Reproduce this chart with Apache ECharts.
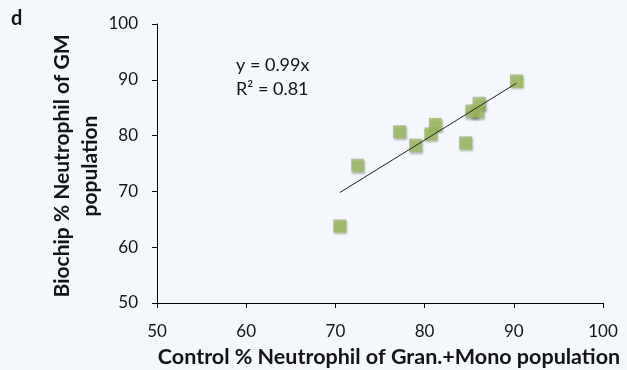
<!DOCTYPE html>
<html>
<head>
<meta charset="utf-8">
<script src="https://cdn.jsdelivr.net/npm/echarts@6/dist/echarts.min.js"></script>
<style>
  html, body { margin: 0; padding: 0; background: #f4f8fc; }
  #chart { width: 627px; height: 370px; }
</style>
</head>
<body>
<div id="chart"></div>
<script>
// Control vs. Biochip neutrophil percentages
const controlPct = [90.3, 86.1, 85.3, 85.9, 81.2, 80.7, 77.2, 79.0, 84.6, 72.5, 70.5];
const biochipPct = [89.8, 85.8, 84.4, 84.4, 82.0, 80.3, 80.7, 78.3, 78.7, 74.7, 63.8];
const slope = 0.99;
const rSquared = 0.81;
const xTicks = [50, 60, 70, 80, 90, 100];
const yTicks = [50, 60, 70, 80, 90, 100];

const points = controlPct.map((x, i) => [x, biochipPct[i]]);
const xMin = Math.min(...controlPct);
const xMax = Math.max(...controlPct);
const trend = [[xMin, slope * xMin], [xMax, slope * xMax]];

const FONT = 'Lato';
const TEXT = '#141414';

const chart = echarts.init(document.getElementById('chart'));
chart.setOption({
  backgroundColor: '#f4f8fc',
  animation: false,
  textStyle: { fontFamily: FONT },
  grid: { left: 157, right: 24, top: 24, bottom: 67, containLabel: false },
  xAxis: {
    type: 'value',
    min: xTicks[0], max: xTicks[xTicks.length - 1], interval: 10,
    axisLine: { show: true, onZero: false, lineStyle: { color: '#000', width: 1 } },
    axisTick: { show: true, length: 5, lineStyle: { color: '#000' } },
    axisLabel: { margin: 20, fontSize: 17, color: TEXT, fontFamily: FONT },
    splitLine: { show: false }
  },
  yAxis: {
    type: 'value',
    min: yTicks[0], max: yTicks[yTicks.length - 1], interval: 10,
    axisLine: { show: true, onZero: false, lineStyle: { color: '#000', width: 1 } },
    axisTick: { show: true, length: 5, lineStyle: { color: '#000' } },
    axisLabel: { margin: 19, fontSize: 17, color: TEXT, fontFamily: FONT },
    splitLine: { show: false }
  },
  series: [
    {
      type: 'line',
      data: trend,
      symbol: 'none',
      lineStyle: { color: '#222', width: 1 },
      z: 3
    },
    {
      type: 'scatter',
      data: points,
      symbol: 'rect',
      symbolSize: 13,
      itemStyle: {
        color: '#9bbb59',
        shadowColor: 'rgba(0,0,0,0.35)',
        shadowBlur: 2,
        shadowOffsetX: 1,
        shadowOffsetY: 2
      },
      z: 2
    }
  ],
  graphic: [
    {
      type: 'text', left: 11, top: 9,
      style: { text: 'd', font: 'bold 20px ' + FONT, fill: TEXT }
    },
    {
      type: 'text', left: 236, top: 53,
      style: { text: 'y = ' + slope.toFixed(2) + 'x\nR² = ' + rSquared.toFixed(2),
               font: '18px ' + FONT, fill: TEXT, lineHeight: 24 }
    },
    {
      type: 'text', x: 76, y: 166, rotation: Math.PI / 2,
      style: { text: 'Biochip % Neutrophil of GM\npopulation', font: 'bold 21px ' + FONT,
               fill: TEXT, align: 'center', verticalAlign: 'middle', lineHeight: 28 }
    },
    {
      type: 'text', x: 389, y: 357,
      style: { text: 'Control % Neutrophil of Gran.+Mono population', font: 'bold 21.5px ' + FONT,
               fill: TEXT, align: 'center', verticalAlign: 'middle' }
    }
  ]
});
</script>
</body>
</html>
